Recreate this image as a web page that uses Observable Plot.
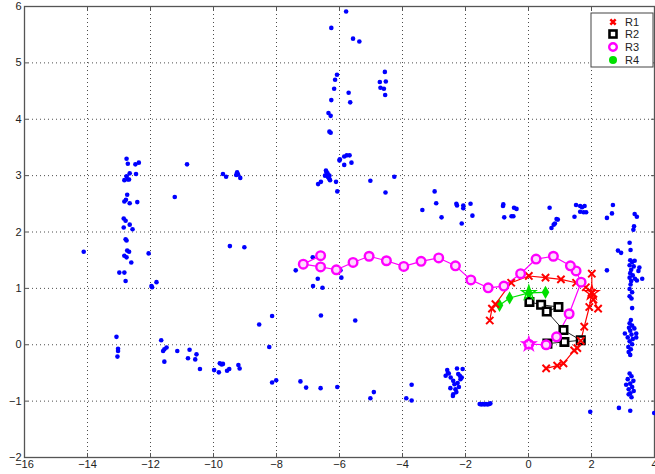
<!DOCTYPE html>
<html><head><meta charset="utf-8">
<script src="https://cdn.jsdelivr.net/npm/d3@7"></script>
<script src="https://cdn.jsdelivr.net/npm/@observablehq/plot@0.6"></script>
<style>body{margin:0;background:#fff;} #chart{width:655px;height:474px;}</style>
</head><body><div id="chart"></div>
<script>
const xTicks = [-16,-14,-12,-10,-8,-6,-4,-2,0,2,4];
const yTicks = [-2,-1,0,1,2,3,4,5,6];
const seriesNames = ["R1","R2","R3","R4"];

const blue = [
[-5.79,5.91],[-6.26,5.62],[-5.57,5.43],[-5.37,5.38],
[-4.56,4.84],[-4.72,4.66],[-4.53,4.67],[-4.70,4.56],[-4.59,4.54],[-4.55,4.43],
[-6.08,4.79],[-6.14,4.70],[-6.17,4.54],[-5.71,4.47],[-5.66,4.30],[-6.26,4.34],[-6.35,4.11],[-6.28,4.06],[-6.32,3.78],[-6.28,3.76],
[-5.85,3.34],[-5.77,3.36],[-5.68,3.36],[-6.0,3.27],[-5.62,3.23],[-5.85,3.19],[-5.99,3.29],
[-6.43,3.09],[-6.38,3.04],[-6.32,3.00],[-6.46,3.00],[-6.30,2.92],[-6.11,2.89],[-6.59,2.89],[-6.68,2.85],[-6.07,2.72],[-6.41,3.06],[-6.36,2.97],[-6.33,2.95],
[-5.02,2.91],[-4.26,2.98],[-4.54,2.70],
[-12.76,3.30],[-12.72,3.21],[-12.48,3.20],[-12.37,3.23],[-12.66,3.04],[-12.46,3.03],[-12.76,2.99],[-12.72,2.93],[-12.83,2.92],[-12.68,2.93],
[-12.74,2.66],[-12.78,2.57],[-12.66,2.51],[-12.42,2.53],[-12.83,2.54],
[-11.23,2.62],
[-12.85,2.24],[-12.79,2.20],[-12.66,2.13],[-12.57,2.05],[-12.85,2.08],
[-12.79,1.87],[-12.76,1.85],[-12.74,1.67],[-12.68,1.65],[-12.83,1.58],[-12.76,1.55],[-12.61,1.46],
[-14.12,1.65],[-12.06,1.62],[-12.99,1.28],[-12.83,1.28],[-12.79,1.13],[-11.81,1.11],[-11.97,1.04],[-11.95,1.02],
[-13.08,0.14],[-13.03,-0.07],[-13.03,-0.11],[-13.05,-0.21],
[-11.66,0.08],[-11.49,-0.05],[-11.56,-0.08],[-11.60,-0.11],[-11.15,-0.11],[-11.56,-0.30],
[-10.84,3.20],[-9.70,3.03],[-9.60,2.98],[-9.25,3.06],[-9.22,3.02],[-9.15,2.96],[-9.28,3.01],
[-9.48,1.75],[-9.02,1.73],
[-8.14,0.51],[-8.55,0.36],[-8.23,-0.04],
[-10.76,-0.09],[-10.81,-0.24],[-10.54,-0.17],[-10.58,-0.26],[-10.43,-0.43],[-9.98,-0.45],[-9.83,-0.49],[-9.80,-0.33],[-9.74,-0.35],[-9.70,-0.34],[-9.57,-0.46],[-9.50,-0.43],[-9.21,-0.36],[-9.17,-0.42],
[-8.14,-0.67],[-8.01,-0.63],
[-6.85,1.55],[-7.39,1.32],[-6.69,1.17],[-6.84,1.04],[-6.54,1.01],[-6.59,0.52],[-5.97,1.32],[-5.94,1.19],[-5.50,0.43],
[-7.24,-0.65],[-7.06,-0.76],[-6.60,-0.77],[-6.07,-0.75],
[-4.91,-0.84],[-5.02,-0.95],[-3.71,-0.71],[-3.88,-0.95],[-3.71,-0.99],
[-2.98,2.72],[-2.93,2.51],[-3.37,2.39],[-2.76,2.26],[-2.29,2.50],[-2.27,2.47],[-2.07,2.47],[-2.07,2.42],[-1.84,2.50],[-2.12,2.15],[-1.78,2.29],
[-0.81,2.46],[-0.80,2.49],[-0.46,2.43],[-0.38,2.41],[-0.77,2.26],[-0.54,2.28],[-0.48,2.28],
[0.67,2.43],[0.89,2.23],[0.93,2.22],[0.80,2.13],[0.84,2.15],[0.73,2.07],
[-2.58,-0.45],[-2.53,-0.51],[-2.63,-0.55],[-2.47,-0.58],[-2.27,-0.42],[-2.09,-0.43],[-2.23,-0.52],[-2.16,-0.61],[-2.39,-0.64],[-2.48,-0.77],[-2.32,-0.79],[-2.21,-0.75],[-2.39,-0.88],[-2.29,-0.84],[-2.56,-0.50],[-2.18,-0.55],[-2.12,-0.58],[-2.35,-0.70],[-2.25,-0.68],[-2.40,-0.91],
[-1.55,-1.05],[-1.50,-1.06],[-1.45,-1.05],[-1.40,-1.06],[-1.35,-1.05],[-1.30,-1.06],[-1.25,-1.05],[-1.21,-1.04],
[1.51,2.48],[1.64,2.46],[1.78,2.46],[1.64,2.36],[1.75,2.35],[1.83,2.35],[1.46,2.27],[1.70,2.44],
[2.68,2.48],[2.65,2.33],[2.49,2.25],
[3.37,2.32],[3.44,2.27],[3.35,2.10],[3.33,2.04],
[3.21,1.81],[2.84,1.67],[2.94,1.63],[3.24,1.68],
[2.49,1.32],
[3.23,1.50],[3.29,1.47],[3.37,1.49],[3.21,1.41],[3.34,1.39],[3.26,1.33],[3.23,1.27],[3.31,1.23],[3.21,1.19],[3.38,1.17],[3.26,1.13],[3.44,1.14],[3.24,1.07],[3.21,0.99],[3.29,0.93],[3.21,0.86],[3.27,0.82],[3.29,0.65],[3.52,1.37],[3.49,1.31],[3.61,1.17],
[3.25,0.44],[3.21,0.38],[3.29,0.34],[3.19,0.30],[3.36,0.29],[3.23,0.25],[3.42,0.20],[3.06,0.20],[3.27,0.18],[3.15,0.13],[3.31,0.10],[3.21,0.06],[3.29,0.01],[3.17,-0.04],[3.25,-0.08],[3.18,-0.13],[3.23,-0.18],[3.42,0.13],
[3.21,-0.51],[3.27,-0.56],[3.15,-0.61],[3.33,-0.64],[3.23,-0.69],[3.10,-0.71],[3.29,-0.75],[3.18,-0.79],[3.34,-0.82],[3.23,-0.86],[3.27,-0.93],[3.18,-0.88],
[1.96,-1.19],[2.87,-1.12],[3.23,-1.17],[3.99,-1.21]
];

// R1: two passes (seg a, seg b)
const r1a = [[-1.23,0.43],[-1.16,0.64],[-1.05,0.72],[-0.55,1.10],[0.01,1.22],[0.54,1.19],[1.03,1.16],[1.51,1.10],[1.82,1.02],[2.01,0.92],[2.06,0.80],[2.21,0.64]];
const r1b = [[2.01,1.26],[2.01,0.92],[1.93,0.67],[1.77,0.32],[1.66,0.07],[1.55,-0.06],[1.45,-0.10],[1.11,-0.33],[0.91,-0.37],[0.56,-0.42]];
const r2 = [[0.03,0.76],[0.40,0.71],[0.95,0.67],[0.58,0.59],[1.11,0.26],[1.66,0.08],[1.14,0.05],[0.60,0.02]];
const r3 = [[0.01,0.01],[0.56,0.0],[0.89,0.14],[1.29,0.55],[1.67,1.11],[1.51,1.31],[1.33,1.40],[0.79,1.57],[0.24,1.52],[-0.25,1.26],[-0.78,1.04],[-1.28,1.01],[-1.83,1.15],[-2.32,1.40],[-2.85,1.54],[-3.41,1.48],[-3.96,1.39],[-4.51,1.49],[-5.06,1.57],[-5.57,1.46],[-6.10,1.33],[-6.60,1.38],[-7.15,1.43],[-6.60,1.58]];
const r4 = [[-0.92,0.70],[-0.60,0.83],[0.01,0.92],[0.54,0.93]];
const starts = [["R1",2.01,0.92],["R3",0.01,0.01],["R4",0.01,0.92]];

const colors = {R1:"#ff0000", R2:"#000000", R3:"#ff00ff", R4:"#00e000"};
const X = d => d[0], Y = d => d[1];

const r1 = [...r1a.map(d => [...d, "a"]), ...r1b.map(d => [...d, "b"])];

const chart = Plot.plot({
  width: 655, height: 474,
  marginTop: 6, marginBottom: 17, marginLeft: 24, marginRight: 1,
  style: {fontFamily: "'Liberation Sans', Arial, sans-serif", fontSize: "11px", color: "#222", background: "#fff", overflow: "visible"},
  x: {domain: [-16, 4]},
  y: {domain: [-2, 6]},
  marks: [
    Plot.gridX(xTicks, {stroke: "#000", strokeOpacity: 0.7, strokeDasharray: "1,3"}),
    Plot.gridY(yTicks, {stroke: "#000", strokeOpacity: 0.7, strokeDasharray: "1,3"}),
    Plot.axisX(xTicks, {anchor: "bottom", tickSize: -4, tickPadding: 7, tickFormat: d3.format("d"), label: null, stroke: "#555"}),
    Plot.axisX(xTicks, {anchor: "top", tickSize: -4, tickFormat: () => "", label: null, stroke: "#555"}),
    Plot.axisY(yTicks, {anchor: "left", tickSize: -4, tickPadding: 7, tickFormat: d3.format("d"), label: null, stroke: "#555"}),
    Plot.axisY(yTicks, {anchor: "right", tickSize: -4, tickFormat: () => "", label: null, stroke: "#555"}),
    Plot.frame({stroke: "#555", strokeWidth: 1.3}),
    Plot.dot(blue, {x: X, y: Y, r: 2.3, fill: "#0000ff"}),
    Plot.line(r4, {x: X, y: Y, stroke: colors.R4, strokeWidth: 1.2}),
    Plot.line(r2, {x: X, y: Y, stroke: "#222", strokeWidth: 1}),
    Plot.line(r1, {x: X, y: Y, z: d => d[2], stroke: colors.R1, strokeWidth: 1.2}),
    Plot.line(r3, {x: X, y: Y, stroke: colors.R3, strokeWidth: 1.2}),
    Plot.dot(r4, {x: X, y: Y, r: 4, symbol: "diamond", fill: colors.R4}),
    Plot.dot(r2, {x: X, y: Y, r: 4.2, symbol: "square", fill: "#fff", stroke: "#000", strokeWidth: 2.6}),
    Plot.dot(r1, {x: X, y: Y, r: 3.4, symbol: "times", stroke: colors.R1, strokeWidth: 2}),
    Plot.dot(r3, {x: X, y: Y, r: 4.3, fill: "#ffd8ff", stroke: colors.R3, strokeWidth: 2.4}),
    Plot.dot(starts, {x: d => d[1], y: d => d[2], r: 4.5, symbol: "star", fill: "none", stroke: d => colors[d[0]], strokeWidth: 1.3})
  ]
});
document.getElementById("chart").appendChild(chart);

// legend box (MATLAB style, top-right inside the axes)
const svg = d3.select(chart);
const lg = svg.append("g").attr("transform", "translate(591,13)");
lg.append("rect").attr("width", 62).attr("height", 54).attr("fill", "#fff").attr("stroke", "#444").attr("stroke-width", 1);
const rows = [9, 21, 34, 47];
seriesNames.forEach((name, i) => {
  const g = lg.append("g").attr("transform", `translate(22,${rows[i]})`);
  if (name === "R1") g.append("path").attr("d", d3.symbol(d3.symbolTimes, 20)()).attr("stroke", colors.R1).attr("stroke-width", 2.5).attr("fill", "none");
  if (name === "R2") g.append("rect").attr("x", -3.5).attr("y", -3.5).attr("width", 7).attr("height", 7).attr("fill", "#fff").attr("stroke", "#000").attr("stroke-width", 2.6);
  if (name === "R3") g.append("circle").attr("r", 3.8).attr("fill", "#fff").attr("stroke", colors.R3).attr("stroke-width", 2.4);
  if (name === "R4") g.append("circle").attr("r", 4).attr("fill", colors.R4);
  lg.append("text").attr("x", 41).attr("y", rows[i]).attr("dy", "0.35em").attr("font-size", 11).attr("fill", "#222").text(name);
});
</script>
</body></html>
